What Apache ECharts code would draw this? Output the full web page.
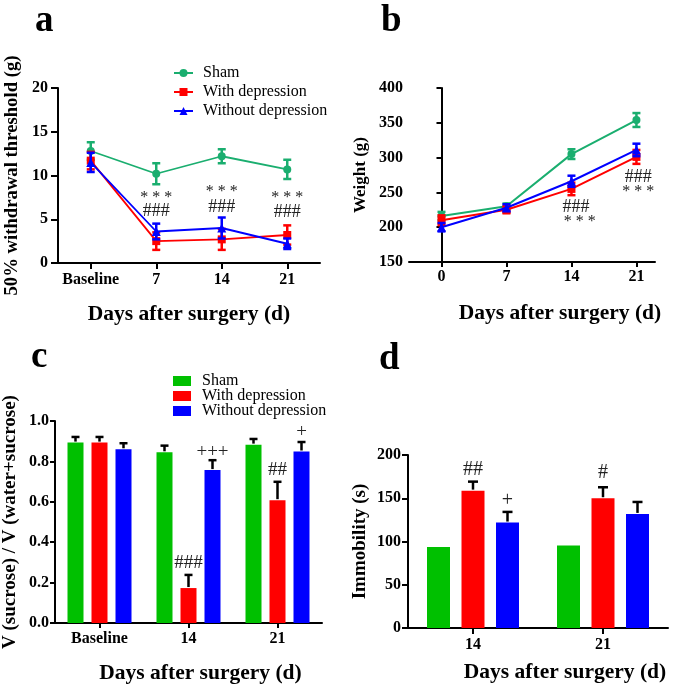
<!DOCTYPE html>
<html>
<head>
<meta charset="utf-8">
<script src="https://cdn.jsdelivr.net/npm/echarts@6/dist/echarts.min.js"></script>
<style>
  html, body { margin: 0; padding: 0; background: #fff; }
  #main { width: 675px; height: 685px; }
</style>
</head>
<body>
<div id="main"></div>
<script>
// groups
const groups = ['Sham', 'With depression', 'Without depression'];

// a: 50% withdrawal threshold (g)
const aDays = ['Baseline', '7', '14', '21'];
const aSham = [12.8, 10.2, 12.2, 10.7];
const aShamErr = [1.0, 1.2, 0.8, 1.1];
const aWith = [11.7, 2.5, 2.7, 3.2];
const aWithErr = [1.0, 1.0, 1.2, 1.1];
const aWithout = [11.5, 3.6, 4.0, 2.2];
const aWithoutErr = [1.1, 0.9, 1.2, 0.6];
const aMarkX = [1, 1, 2, 2, 3, 3];
const aMarkY = [7.5, 5.9, 8.1, 6.4, 7.5, 5.8];
const aMarkText = ['* * *', '###', '* * *', '###', '* * *', '###'];

// b: weight (g)
const bDays = [0, 7, 14, 21];
const bSham = [216, 230, 305, 354];
const bShamErr = [6, 4, 7, 10];
const bWith = [210, 225, 255, 301];
const bWithErr = [7, 5, 9, 10];
const bWithout = [200, 228, 266, 311];
const bWithoutErr = [6, 5, 8, 9];
const bMarkX = [14.5, 14.9, 21.2, 21.2];
const bMarkY = [229, 207.5, 272, 250.5];
const bMarkText = ['###', '* * *', '###', '* * *'];

// c: sucrose preference
const cDays = ['Baseline', '14', '21'];
const cSham = [0.893, 0.845, 0.883];
const cShamErr = [0.028, 0.033, 0.028];
const cWith = [0.893, 0.173, 0.608];
const cWithErr = [0.028, 0.065, 0.091];
const cWithout = [0.860, 0.757, 0.849];
const cWithoutErr = [0.030, 0.049, 0.047];
const cMarkX = [1, 1, 2, 2];
const cMarkY = [0.298, 0.846, 0.757, 0.944];
const cMarkBar = [1, 2, 1, 2];
const cMarkText = ['###', '+++', '##', '+'];

// d: immobility (s)
const dDays = ['14', '21'];
const dSham = [93.5, 95.3];
const dWith = [158.8, 150.0];
const dWithErr = [10.4, 12.7];
const dWithout = [121.9, 131.9];
const dWithoutErr = [12.3, 13.8];
const dMarkX = [0, 0, 1];
const dMarkY = [182.7, 146.9, 179];
const dMarkBar = [1, 2, 1];
const dMarkText = ['##', '+', '#'];

const lineColors = ['#1aae6f', '#ff0000', '#0000ff'];
const barColors = ['#00c000', '#ff0000', '#0000ff'];
const serif = '"Liberation Serif", "Times New Roman", serif';
const cBarW = 16;
const dBarW = 23;

var chartDom = document.getElementById('main');
var myChart = echarts.init(chartDom);

const zip = (vals, errs) => vals.map((v, i) => [i, v, errs ? errs[i] : 0]);
const zipX = (xs, vals, errs) => vals.map((v, i) => [xs[i], v, errs[i]]);

// two-sided error bars with caps (line charts)
function lineErr(capHalf) {
  return function (params, api) {
    const x = api.value(0), y = api.value(1), e = api.value(2);
    const hi = api.coord([x, y + e]);
    const lo = api.coord([x, y - e]);
    const style = { stroke: api.visual('color'), lineWidth: 2.5 };
    return {
      type: 'group',
      children: [
        { type: 'line', shape: { x1: hi[0], y1: hi[1], x2: lo[0], y2: lo[1] }, style: style },
        { type: 'line', shape: { x1: hi[0] - capHalf, y1: hi[1], x2: hi[0] + capHalf, y2: hi[1] }, style: style },
        { type: 'line', shape: { x1: lo[0] - capHalf, y1: lo[1], x2: lo[0] + capHalf, y2: lo[1] }, style: style }
      ]
    };
  };
}

// upward error bars on grouped bars
function barErr(shift, capHalf) {
  return function (params, api) {
    if (!api.value(2)) return;
    const x = api.value(0), y = api.value(1), e = api.value(2);
    const b = api.coord([x, y]);
    const t = api.coord([x, y + e]);
    const px = b[0] + shift;
    const style = { stroke: '#000', lineWidth: 2.5 };
    return {
      type: 'group',
      children: [
        { type: 'line', shape: { x1: px, y1: b[1] - 1, x2: px, y2: t[1] }, style: style },
        { type: 'line', shape: { x1: px - capHalf, y1: t[1], x2: px + capHalf, y2: t[1] }, style: style }
      ]
    };
  };
}

// significance marks
function marks(texts, shifts, size) {
  return function (params, api) {
    const p = api.coord([api.value(0), api.value(1)]);
    const dx = shifts ? shifts[params.dataIndex] : 0;
    const t = texts[params.dataIndex];
    const fs = t.indexOf('*') >= 0 ? 16 : size;
    return {
      type: 'text',
      x: p[0] + dx,
      y: p[1],
      style: {
        text: t,
        fill: '#222',
        font: fs + 'px ' + serif,
        align: 'center',
        verticalAlign: 'middle'
      }
    };
  };
}

const axisLine = { show: true, lineStyle: { color: '#000', width: 2 } };
const tick = len => ({ show: true, length: len, lineStyle: { color: '#000', width: 2 } });
const label = m => ({ color: '#000', fontFamily: serif, fontWeight: 'bold', fontSize: 16, margin: m });
const nameStyle = size => ({ color: '#000', fontFamily: serif, fontWeight: 'bold', fontSize: size });
const xNameStyle = { color: '#000', fontFamily: serif, fontWeight: 'bold', fontSize: 21.5 };
const letterStyle = { color: '#000', fontFamily: serif, fontWeight: 'bold', fontSize: 37 };
const legendText = { fontFamily: serif, fontSize: 16, color: '#000' };

var option = {
  animation: false,
  backgroundColor: '#fff',
  title: [
    { text: 'a', left: 35, top: 3, padding: 0, textStyle: letterStyle },
    { text: 'b', left: 381, top: 3, padding: 0, textStyle: letterStyle },
    { text: 'c', left: 31, top: 339, padding: 0, textStyle: letterStyle },
    { text: 'd', left: 379, top: 341, padding: 0, textStyle: letterStyle }
  ],
  legend: [
    {
      data: groups,
      orient: 'vertical',
      left: 173,
      top: 65,
      padding: 0,
      itemWidth: 19,
      itemHeight: 10,
      itemGap: 3,
      textStyle: Object.assign({ padding: [0, 0, 0, 5] }, legendText)
    },
    {
      data: groups.map((g, i) => ({ name: g, icon: 'rect', itemStyle: { color: barColors[i], borderWidth: 0 } })),
      orient: 'vertical',
      left: 173,
      top: 373,
      padding: 0,
      itemWidth: 18,
      itemHeight: 10,
      itemGap: -1,
      textStyle: Object.assign({ padding: [0, 0, 0, 6], lineHeight: 15 }, legendText)
    }
  ],
  grid: [
    { left: 58, top: 88, width: 262, height: 175 },
    { left: 409, top: 88, width: 246, height: 174 },
    { left: 55, top: 421, width: 267, height: 202 },
    { left: 408, top: 455, width: 260, height: 173 }
  ],
  xAxis: [
    {
      gridIndex: 0, type: 'category', data: aDays, boundaryGap: true,
      axisLine: axisLine,
      axisTick: Object.assign({ alignWithLabel: true, interval: 0 }, tick(6)),
      axisLabel: Object.assign({ interval: 0 }, label(9)),
      name: 'Days after surgery (d)', nameLocation: 'middle', nameGap: 40, nameTextStyle: xNameStyle
    },
    {
      gridIndex: 1, type: 'value', min: -3.5, max: 23,
      axisLine: axisLine,
      axisTick: Object.assign({ customValues: bDays }, tick(5)),
      axisLabel: Object.assign({ customValues: bDays }, label(7)),
      splitLine: { show: false },
      name: 'Days after surgery (d)', nameLocation: 'middle', nameGap: 40,
      nameTextStyle: Object.assign({ padding: [0, 0, 0, 56] }, xNameStyle)
    },
    {
      gridIndex: 2, type: 'category', data: cDays,
      axisLine: axisLine,
      axisTick: Object.assign({ alignWithLabel: true, interval: 0 }, tick(5)),
      axisLabel: Object.assign({ interval: 0 }, label(8)),
      name: 'Days after surgery (d)', nameLocation: 'middle', nameGap: 39,
      nameTextStyle: Object.assign({ padding: [0, 0, 0, 24] }, xNameStyle)
    },
    {
      gridIndex: 3, type: 'category', data: dDays,
      axisLine: axisLine,
      axisTick: Object.assign({ alignWithLabel: true, interval: 0 }, tick(6)),
      axisLabel: Object.assign({ interval: 0 }, label(9)),
      name: 'Days after surgery (d)', nameLocation: 'middle', nameGap: 33,
      nameTextStyle: Object.assign({ padding: [0, 0, 0, 54] }, xNameStyle)
    }
  ],
  yAxis: [
    {
      gridIndex: 0, type: 'value', min: 0, max: 20, interval: 5,
      axisLine: axisLine, axisTick: tick(7), axisLabel: label(10), splitLine: { show: false },
      name: '50% withdrawal threshold (g)', nameLocation: 'middle', nameGap: 36, nameTextStyle: nameStyle(18.7)
    },
    {
      gridIndex: 1, type: 'value', min: 150, max: 400, interval: 50,
      axisLine: axisLine, axisTick: tick(5), axisLabel: label(6), splitLine: { show: false },
      name: 'Weight (g)', nameLocation: 'middle', nameGap: 40, nameTextStyle: nameStyle(17)
    },
    {
      gridIndex: 2, type: 'value', min: 0, max: 1, interval: 0.2,
      axisLine: axisLine, axisTick: tick(5), splitLine: { show: false },
      axisLabel: Object.assign({ formatter: v => v.toFixed(1) }, label(6)),
      name: 'V (sucrose) / V (water+sucrose)', nameLocation: 'middle', nameGap: 35, nameTextStyle: nameStyle(19)
    },
    {
      gridIndex: 3, type: 'value', min: 0, max: 200, interval: 50,
      axisLine: axisLine, axisTick: tick(6), axisLabel: label(7), splitLine: { show: false },
      name: 'Immobility (s)', nameLocation: 'middle', nameGap: 38, nameTextStyle: nameStyle(19)
    }
  ],
  series: []
};

// panel a
const aVals = [aSham, aWith, aWithout];
const aErrs = [aShamErr, aWithErr, aWithoutErr];
const symbols = ['circle', 'rect', 'triangle'];
const symbolSizes = [8, 8, 9];
groups.forEach((g, i) => {
  option.series.push({
    name: g, type: 'line', xAxisIndex: 0, yAxisIndex: 0,
    data: aVals[i], symbol: symbols[i], symbolSize: symbolSizes[i],
    itemStyle: { color: lineColors[i] }, lineStyle: { width: 1.8, color: lineColors[i] }, z: 3 + i
  });
  option.series.push({
    name: g, type: 'custom', xAxisIndex: 0, yAxisIndex: 0,
    renderItem: lineErr(4), data: zip(aVals[i], aErrs[i]),
    encode: { x: 0, y: 1 }, itemStyle: { color: lineColors[i] }, z: 3 + i
  });
});
option.series.push({
  type: 'custom', xAxisIndex: 0, yAxisIndex: 0, renderItem: marks(aMarkText, null, 18),
  data: aMarkX.map((x, i) => [x, aMarkY[i]]), encode: { x: 0, y: 1 }, z: 10
});

// panel b
const bVals = [bSham, bWith, bWithout];
const bErrs = [bShamErr, bWithErr, bWithoutErr];
groups.forEach((g, i) => {
  option.series.push({
    name: g, type: 'line', xAxisIndex: 1, yAxisIndex: 1,
    data: bDays.map((d, j) => [d, bVals[i][j]]), symbol: symbols[i], symbolSize: symbolSizes[i],
    itemStyle: { color: lineColors[i] }, lineStyle: { width: 2, color: lineColors[i] }, z: 3 + i
  });
  option.series.push({
    name: g, type: 'custom', xAxisIndex: 1, yAxisIndex: 1,
    renderItem: lineErr(4), data: zipX(bDays, bVals[i], bErrs[i]),
    encode: { x: 0, y: 1 }, itemStyle: { color: lineColors[i] }, z: 3 + i
  });
});
option.series.push({
  type: 'custom', xAxisIndex: 1, yAxisIndex: 1, renderItem: marks(bMarkText, null, 18),
  data: bMarkX.map((x, i) => [x, bMarkY[i]]), encode: { x: 0, y: 1 }, z: 10
});

// panel c
const cVals = [cSham, cWith, cWithout];
const cErrs = [cShamErr, cWithErr, cWithoutErr];
const cStep = cBarW * 1.5;
groups.forEach((g, i) => {
  option.series.push({
    name: g, type: 'bar', xAxisIndex: 2, yAxisIndex: 2, data: cVals[i],
    barWidth: cBarW, barGap: '50%', itemStyle: { color: barColors[i] }
  });
});
groups.forEach((g, i) => {
  option.series.push({
    type: 'custom', xAxisIndex: 2, yAxisIndex: 2, renderItem: barErr((i - 1) * cStep, 4),
    data: zip(cVals[i], cErrs[i]), encode: { x: 0, y: 1 }, z: 5
  });
});
option.series.push({
  type: 'custom', xAxisIndex: 2, yAxisIndex: 2,
  renderItem: marks(cMarkText, cMarkBar.map(k => (k - 1) * cStep), 19),
  data: cMarkX.map((x, i) => [x, cMarkY[i]]), encode: { x: 0, y: 1 }, z: 10
});

// panel d
const dVals = [dSham, dWith, dWithout];
const dErrs = [null, dWithErr, dWithoutErr];
const dStep = dBarW * 1.5;
groups.forEach((g, i) => {
  option.series.push({
    name: g, type: 'bar', xAxisIndex: 3, yAxisIndex: 3, data: dVals[i],
    barWidth: dBarW, barGap: '50%', itemStyle: { color: barColors[i] }
  });
});
groups.forEach((g, i) => {
  option.series.push({
    type: 'custom', xAxisIndex: 3, yAxisIndex: 3, renderItem: barErr((i - 1) * dStep, 5),
    data: zip(dVals[i], dErrs[i]), encode: { x: 0, y: 1 }, z: 5
  });
});
option.series.push({
  type: 'custom', xAxisIndex: 3, yAxisIndex: 3,
  renderItem: marks(dMarkText, dMarkBar.map(k => (k - 1) * dStep), 20),
  data: dMarkX.map((x, i) => [x, dMarkY[i]]), encode: { x: 0, y: 1 }, z: 10
});

option && myChart.setOption(option);
</script>
</body>
</html>
